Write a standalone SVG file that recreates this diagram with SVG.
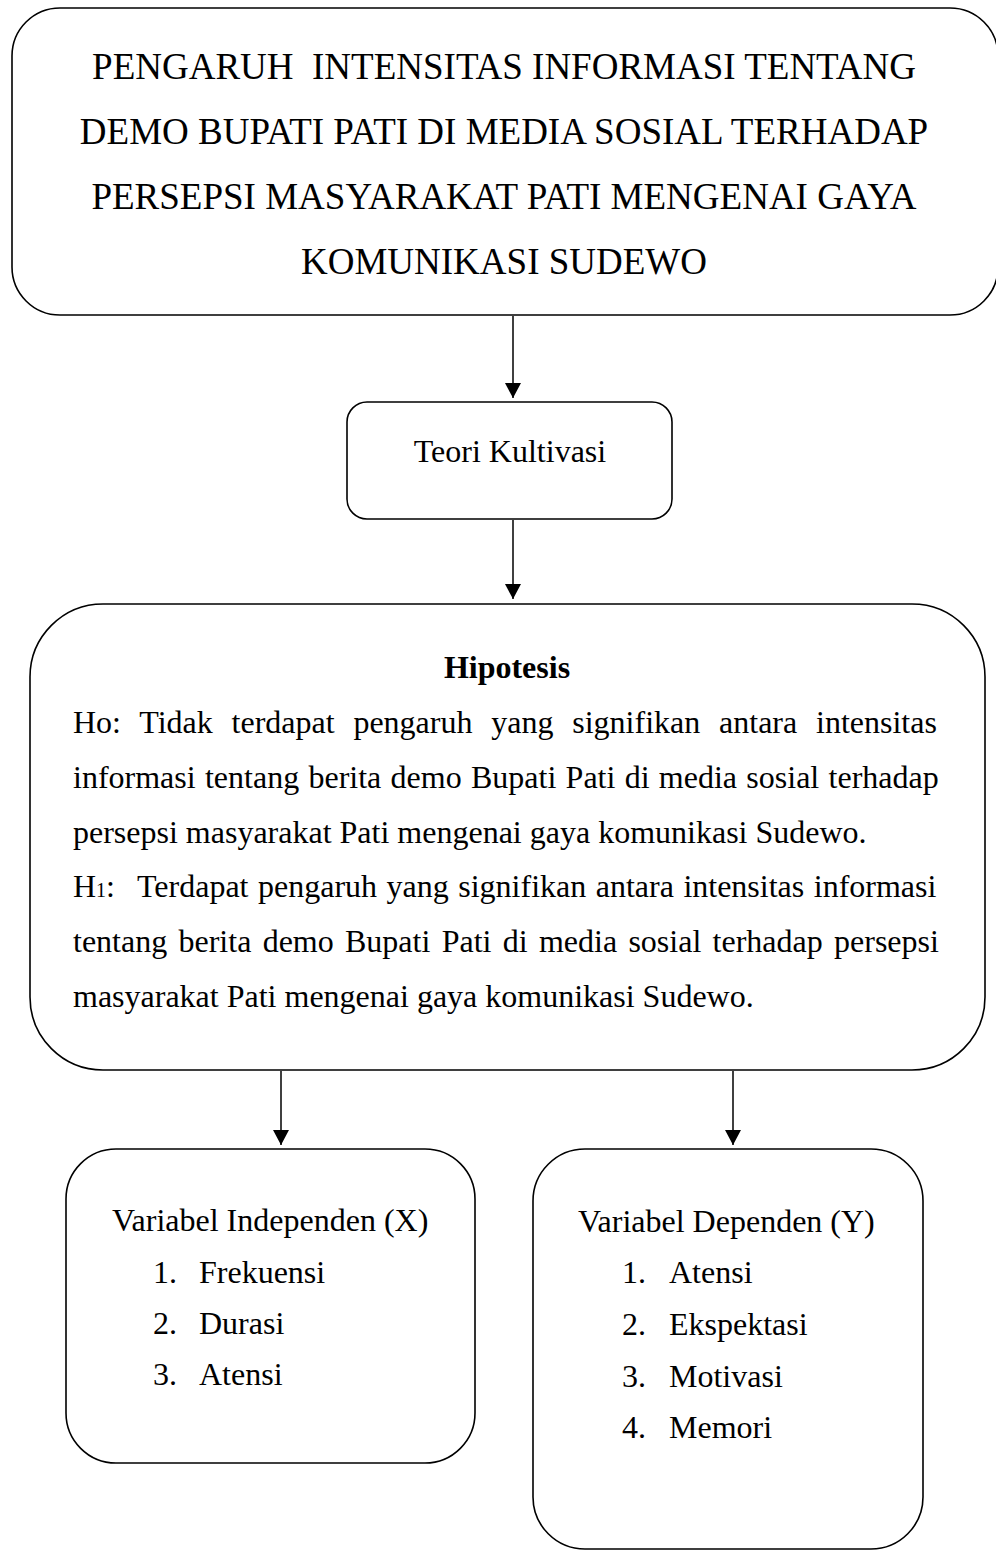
<svg xmlns="http://www.w3.org/2000/svg" width="996" height="1551" viewBox="0 0 996 1551">
  <defs>
    <marker id="arrow" viewBox="0 0 15 16" markerWidth="15" markerHeight="16" refX="15" refY="8" orient="auto" markerUnits="userSpaceOnUse">
      <path d="M0,0 L15,8 L0,16 z" fill="#000"/>
    </marker>
    <style>
      .box { fill: #fff; stroke: #000; stroke-width: 1.6; }
      .conn { stroke: #000; stroke-width: 1.5; fill: none; marker-end: url(#arrow); }
      .t { font-family: "Liberation Serif", "Times New Roman", serif; fill: #000; font-variant-ligatures: none; }
      .title { font-size: 37px; text-anchor: middle; }
      .body { font-size: 32px; }
      .mid { text-anchor: middle; }
      .bold { font-weight: bold; }
      .pre { white-space: pre; }
    </style>
  </defs>
  <rect width="996" height="1551" fill="#fff"/>

  <g id="connectors">
    <line class="conn" x1="513" y1="316" x2="513" y2="398"/>
    <line class="conn" x1="513" y1="520" x2="513" y2="599"/>
    <line class="conn" x1="281" y1="1071" x2="281" y2="1145"/>
    <line class="conn" x1="733" y1="1071" x2="733" y2="1145"/>
  </g>

  <g id="node-judul">
    <rect class="box" x="12" y="8" width="986" height="307" rx="48" ry="48"/>
    <text class="t title pre" x="504" y="79" xml:space="preserve">PENGARUH  INTENSITAS INFORMASI TENTANG</text>
    <text class="t title" x="504" y="144">DEMO BUPATI PATI DI MEDIA SOSIAL TERHADAP</text>
    <text class="t title" x="504" y="209">PERSEPSI MASYARAKAT PATI MENGENAI GAYA</text>
    <text class="t title" x="504" y="274">KOMUNIKASI SUDEWO</text>
  </g>

  <g id="node-teori">
    <rect class="box" x="347" y="402" width="325" height="117" rx="20" ry="20"/>
    <text class="t body mid" x="510" y="462">Teori Kultivasi</text>
  </g>

  <g id="node-hipotesis">
    <rect class="box" x="30" y="604" width="955" height="466" rx="73" ry="73"/>
    <text class="t body mid bold" x="507" y="678">Hipotesis</text>
    <text class="t body" x="73" y="733" word-spacing="10.8">Ho: Tidak terdapat pengaruh yang signifikan antara intensitas</text>
    <text class="t body" x="73" y="788" word-spacing="1.3">informasi tentang berita demo Bupati Pati di media sosial terhadap</text>
    <text class="t body" x="73" y="843">persepsi masyarakat Pati mengenai gaya komunikasi Sudewo.</text>
    <text class="t body" x="73" y="897">H<tspan font-size="20">1</tspan>:</text>
    <text class="t body" x="137" y="897" word-spacing="1.5">Terdapat pengaruh yang signifikan antara intensitas informasi</text>
    <text class="t body" x="73" y="952" word-spacing="3.3">tentang berita demo Bupati Pati di media sosial terhadap persepsi</text>
    <text class="t body" x="73" y="1007">masyarakat Pati mengenai gaya komunikasi Sudewo.</text>
  </g>

  <g id="node-independen">
    <rect class="box" x="66" y="1149" width="409" height="314" rx="50" ry="50"/>
    <text class="t body" x="112" y="1231">Variabel Independen (X)</text>
    <text class="t body" x="153" y="1283">1.</text>
    <text class="t body" x="199" y="1283">Frekuensi</text>
    <text class="t body" x="153" y="1334">2.</text>
    <text class="t body" x="199" y="1334">Durasi</text>
    <text class="t body" x="153" y="1385">3.</text>
    <text class="t body" x="199" y="1385">Atensi</text>
  </g>

  <g id="node-dependen">
    <rect class="box" x="533" y="1149" width="390" height="400" rx="52" ry="52"/>
    <text class="t body" x="578" y="1232">Variabel Dependen (Y)</text>
    <text class="t body" x="622" y="1283">1.</text>
    <text class="t body" x="669" y="1283">Atensi</text>
    <text class="t body" x="622" y="1335">2.</text>
    <text class="t body" x="669" y="1335">Ekspektasi</text>
    <text class="t body" x="622" y="1387">3.</text>
    <text class="t body" x="669" y="1387">Motivasi</text>
    <text class="t body" x="622" y="1438">4.</text>
    <text class="t body" x="669" y="1438">Memori</text>
  </g>
</svg>
